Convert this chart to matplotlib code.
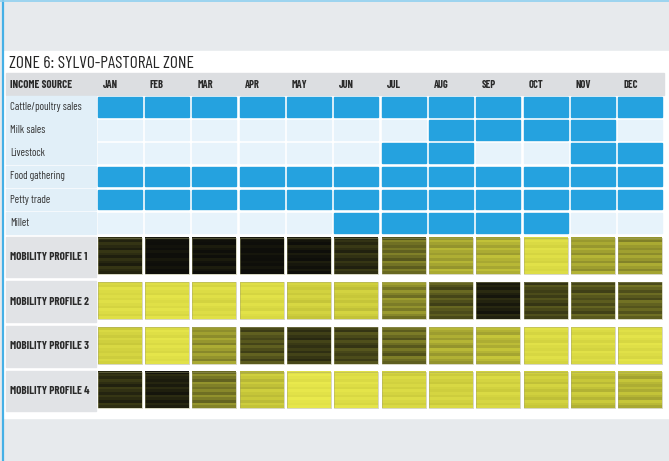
import numpy as np
import matplotlib
matplotlib.use("Agg")
import matplotlib.pyplot as plt
from matplotlib.patches import Rectangle
from matplotlib.colors import LinearSegmentedColormap

plt.rcParams['font.family'] = ['Barlow Condensed', 'Roboto Condensed', 'DejaVu Sans']

# ---------------- data ----------------
title = "ZONE 6: SYLVO-PASTORAL ZONE"
months = ["JAN", "FEB", "MAR", "APR", "MAY", "JUN",
          "JUL", "AUG", "SEP", "OCT", "NOV", "DEC"]
income_sources = ["Cattle/poultry sales", "Milk sales", "Livestock",
                  "Food gathering", "Petty trade", "Millet"]
# 1 = income source active that month
income_active = [
    [1, 1, 1, 1, 1, 1, 1, 1, 1, 1, 1, 1],
    [0, 0, 0, 0, 0, 0, 0, 1, 1, 1, 1, 0],
    [0, 0, 0, 0, 0, 0, 1, 1, 0, 0, 1, 1],
    [1, 1, 1, 1, 1, 1, 1, 1, 1, 1, 1, 1],
    [1, 1, 1, 1, 1, 1, 1, 1, 1, 1, 1, 1],
    [0, 0, 0, 0, 0, 1, 1, 1, 1, 1, 0, 0],
]
profiles = ["MOBILITY PROFILE 1", "MOBILITY PROFILE 2",
            "MOBILITY PROFILE 3", "MOBILITY PROFILE 4"]
# mobility intensity, 0 = light yellow, 1 = black
mobility_1 = [0.86, 0.98, 0.96, 0.98, 0.95, 0.84, 0.58, 0.36, 0.32, 0.1, 0.38, 0.42]
mobility_2 = [0.1, 0.08, 0.1, 0.09, 0.18, 0.2, 0.48, 0.68, 0.9, 0.74, 0.68, 0.64]
mobility_3 = [0.16, 0.07, 0.42, 0.7, 0.8, 0.74, 0.6, 0.36, 0.3, 0.1, 0.1, 0.08]
mobility_4 = [0.84, 0.9, 0.52, 0.24, 0.04, 0.08, 0.14, 0.16, 0.15, 0.2, 0.25, 0.3]
mobility = [mobility_1, mobility_2, mobility_3, mobility_4]

# stripe texture inside each mobility cell
stripes = [0.0, 0.1, -0.04, 0.05, 0.14, -0.06, 0.02, 0.12, -0.02, 0.07, 0.15, -0.05, 0.03, 0.09]

# ---------------- style ----------------
BG = "#e7eaed"
BLUE = "#25a2df"
EMPTY = "#e7f3fb"
LABEL_BLUE = "#e1eff8"
LABEL_GRAY = "#e1e3e6"
HEAD = "#dcdee1"
TXT = "#2a2a2a"
cmap = LinearSegmentedColormap.from_list(
    "mob", ["#ecec4e", "#c8c83a", "#8e8e2c", "#4a4a1a", "#0e0e0a"])

fig = plt.figure(figsize=(6.69, 4.61), dpi=100, facecolor=BG)
ax = fig.add_axes([0, 0, 1, 1])
ax.set_xlim(0, 669)
ax.set_ylim(461, 0)
ax.axis("off")

# frame
ax.add_patch(Rectangle((4, 51), 665, 367, color="white", zorder=0))
ax.plot([2.5, 2.5], [0, 461], color="#45b0e6", lw=1.6, zorder=5)
ax.plot([0, 669], [0.8, 0.8], color="#8fd0f0", lw=1.2, zorder=5)

ax.text(9, 63, title, fontsize=12.5, color="#222222", va="center", ha="left")

x0, pitch, cw = 97.5, 47.35, 44.0
label_x0, label_x1 = 6, 95.5

# header
ax.add_patch(Rectangle((label_x0, 73), 664 - label_x0, 22, color=HEAD, zorder=1))
ax.text(10, 84.5, "INCOME SOURCE", fontsize=7.9, fontweight="bold",
        color=TXT, va="center")
for j, m in enumerate(months):
    ax.text(x0 + j * pitch + 5, 84.5, m, fontsize=7.5, fontweight="bold",
            color=TXT, va="center")

# income rows
row_top, row_pitch, row_h = 97, 23.2, 19.5
for i, src in enumerate(income_sources):
    y = row_top + i * row_pitch
    ax.add_patch(Rectangle((label_x0, y - 1), label_x1 - label_x0, row_h + 2,
                           color=LABEL_BLUE, zorder=1))
    ax.text(10, y + row_h / 2, src, fontsize=7.8, color="#333333", va="center")
    for j in range(len(months)):
        c = BLUE if income_active[i][j] else EMPTY
        ax.add_patch(Rectangle((x0 + j * pitch, y), cw, row_h, color=c, zorder=2))

# mobility rows
mob_top, mob_pitch, mob_h = 237.5, 44.8, 36.5
tex = np.array(stripes)
for i, prof in enumerate(profiles):
    y = mob_top + i * mob_pitch
    ax.add_patch(Rectangle((label_x0, y - 1), label_x1 - label_x0, mob_h + 4,
                           color=LABEL_GRAY, zorder=1))
    ax.text(10, y + mob_h / 2 + 1, prof, fontsize=8, fontweight="bold",
            color=TXT, va="center")
    for j in range(len(months)):
        v = mobility[i][j]
        col = np.clip(v + np.roll(tex, j * 3 + i * 5) * (0.35 + 0.6 * (1 - abs(2 * v - 1))), 0, 1)
        ax.imshow(col[:, None], cmap=cmap, vmin=0, vmax=1, aspect="auto",
                  interpolation="nearest", zorder=2,
                  extent=(x0 + j * pitch, x0 + j * pitch + cw, y + mob_h, y))
        ax.add_patch(Rectangle((x0 + j * pitch, y), cw, mob_h, fill=False,
                               ec="#a0a070", lw=0.6, alpha=0.5, zorder=3))

ax.set_xlim(0, 669)
ax.set_ylim(461, 0)
fig.savefig("out.png", dpi=100, facecolor=BG)
